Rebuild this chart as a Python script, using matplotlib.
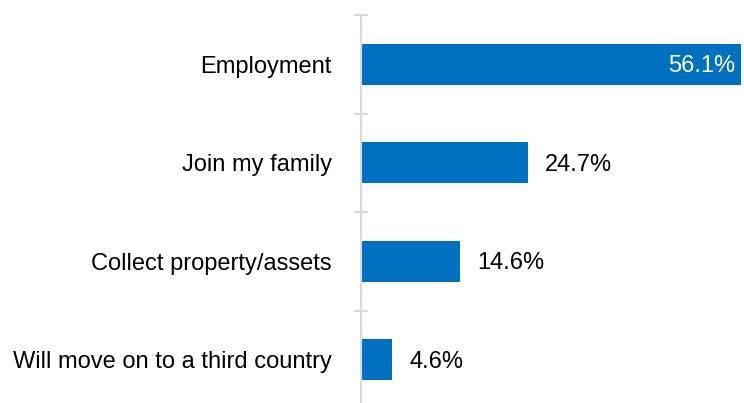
import matplotlib
matplotlib.use("Agg")
import matplotlib.pyplot as plt
import numpy as np

categories = ["Employment", "Join my family", "Collect property/assets", "Will move on to a third country"]
values = [56.1, 24.7, 14.6, 4.6]
labels = ["56.1%", "24.7%", "14.6%", "4.6%"]

plt.rcParams['font.family'] = ['Liberation Sans', 'DejaVu Sans']

fig = plt.figure(figsize=(7.44, 4.03), dpi=100)
ax = fig.add_axes([361/744, -6/403, 380/744, 394/403])

y = np.arange(len(categories))
color = "#0070C0"
ax.barh(y, values, height=0.42, color=color)
ax.set_ylim(3.5, -0.5)
ax.set_xlim(0, 56.1)

for i, (v, lab) in enumerate(zip(values, labels)):
    if v > 40:
        ax.annotate(lab, (v, i), xytext=(-6, -2), textcoords='offset pixels',
                    ha='right', va='center', color='white', fontsize=17)
    else:
        ax.annotate(lab, (v, i), xytext=(17, -2), textcoords='offset pixels',
                    ha='left', va='center', color='#000000', fontsize=17)

for s in ['top', 'right', 'bottom']:
    ax.spines[s].set_visible(False)
ax.spines['left'].set_color('#D9D9D9')
ax.spines['left'].set_linewidth(1.5)
ax.set_xticks([])
ax.set_yticks(y)
ax.set_yticklabels(categories, fontsize=17)
ax.tick_params(axis='y', which='major', length=0, pad=21)
ax.set_yticks(np.arange(-0.5, 4, 1.0), minor=True)
ax.tick_params(axis='y', which='minor', length=10, width=1.5, direction='inout', color='#D9D9D9')

fig.savefig("out.png", dpi=100)
